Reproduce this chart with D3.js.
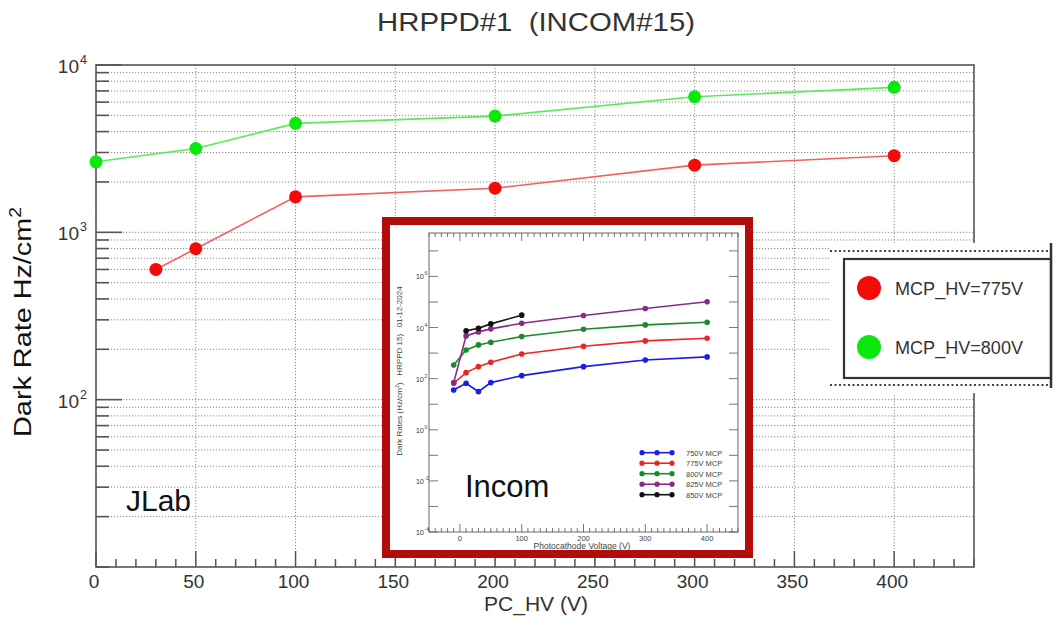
<!DOCTYPE html>
<html><head><meta charset="utf-8">
<script src="https://cdn.jsdelivr.net/npm/d3@7"></script>
<style>
body{margin:0;background:#fff}
svg{display:block}
text{font-family:"Liberation Sans",Arial,Helvetica,sans-serif}
</style>
</head><body>
<svg id="c" width="1056" height="617"></svg>
<script>
// ---------- main chart data ----------
const chartTitle = "HRPPD#1  (INCOM#15)";
const pcHV775 = [30, 50, 100, 200, 300, 400];
const rate775 = [600, 798, 1630, 1835, 2520, 2870];
const pcHV800 = [0, 50, 100, 200, 300, 400];
const rate800 = [2640, 3170, 4480, 4950, 6460, 7350];
const xTickLabels = [0, 50, 100, 150, 200, 250, 300, 350, 400];
const yTickLabels = [100, 1000, 10000];
const legendLabels = ["MCP_HV=775V", "MCP_HV=800V"];

// ---------- inset (Incom) data ----------
const insetVoltages = [-10, 10, 30, 50, 100, 200, 300, 400];
const inset750 = [36, 66, 31, 70, 131, 295, 540, 710];
const inset775 = [66, 172, 295, 437, 927, 1850, 3000, 3820];
const inset800 = [344, 1330, 2090, 2660, 4440, 8600, 12700, 16200];
const inset825 = [70, 4710, 6760, 8870, 14800, 29500, 55600, 101600];
const inset850Voltages = [10, 30, 50, 100];
const inset850 = [7400, 9420, 13900, 30500];
const insetLegendLabels = ["750V MCP", "775V MCP", "800V MCP", "825V MCP", "850V MCP"];
const insetXTickLabels = [0, 100, 200, 300, 400];
const insetYLabelExps = [-4, -2, 0, 2, 4, 6];

const svg = d3.select("#c");

// ================= MAIN PLOT =================
const x = d3.scaleLinear().domain([0, 440]).range([96, 974]);
const y = d3.scaleLog().domain([10, 10000]).range([567, 65]);
const [x0, x1] = x.range();
const [yb, yt] = y.range();

const g = svg.append("g");

// grid: vertical (major x) and horizontal (every log tick)
const yTicksAll = y.ticks().filter(v => v > 10 && v < 10000);
g.selectAll(".hg").data(yTicksAll).join("line")
  .attr("x1", x0).attr("x2", x1)
  .attr("y1", d => y(d)).attr("y2", d => y(d))
  .attr("stroke", "#8a8a8a").attr("stroke-width", 1).attr("stroke-dasharray", "1.2,1.8");
g.selectAll(".vg").data(xTickLabels.filter(v => v > 0)).join("line")
  .attr("x1", d => x(d)).attr("x2", d => x(d))
  .attr("y1", yt).attr("y2", yb)
  .attr("stroke", "#8a8a8a").attr("stroke-width", 1).attr("stroke-dasharray", "1.2,1.8");

// frame
g.append("rect").attr("x", x0).attr("y", yt).attr("width", x1 - x0).attr("height", yb - yt)
  .attr("fill", "none").attr("stroke", "#555").attr("stroke-width", 1.6);

// x ticks
const xMinor = d3.range(0, 441, 10);
g.selectAll(".xt").data(xMinor).join("line")
  .attr("x1", d => x(d)).attr("x2", d => x(d))
  .attr("y1", yb).attr("y2", d => yb - (d % 50 === 0 ? 16 : 8))
  .attr("stroke", "#555").attr("stroke-width", 1.5);
// y ticks
g.selectAll(".yt").data(y.ticks()).join("line")
  .attr("x1", x0).attr("x2", d => x0 + (yTickLabels.includes(d) ? 26 : 13))
  .attr("y1", d => y(d)).attr("y2", d => y(d))
  .attr("stroke", "#555").attr("stroke-width", 1.6);

// x tick labels
g.selectAll(".xl").data(xTickLabels).join("text")
  .attr("x", d => x(d) - 2).attr("y", 588)
  .attr("text-anchor", "middle").attr("font-size", 19).attr("fill", "#333")
  .text(d => d);
// y tick labels (10^n)
yTickLabels.forEach(v => {
  const t = g.append("text").attr("x", 79).attr("y", y(v) + 8)
    .attr("text-anchor", "end").attr("font-size", 19).attr("fill", "#333").text("10");
  g.append("text").attr("x", 80).attr("y", y(v) - 1)
    .attr("font-size", 12.5).attr("fill", "#333").text(Math.round(Math.log10(v)));
});

// axis titles
svg.append("text").attr("x", 536).attr("y", 31).attr("text-anchor", "middle")
  .attr("font-size", 25).attr("fill", "#333").attr("textLength", 318)
  .attr("lengthAdjust", "spacingAndGlyphs").style("white-space", "pre").text(chartTitle);
svg.append("text").attr("x", 536).attr("y", 611).attr("text-anchor", "middle")
  .attr("font-size", 21).attr("fill", "#333").text("PC_HV (V)");
const yl = svg.append("text").attr("transform", "translate(31,322) rotate(-90) scale(1.2,1)")
  .attr("text-anchor", "middle").attr("font-size", 24).attr("fill", "#111");
yl.append("tspan").text("Dark Rate Hz/cm");
yl.append("tspan").attr("dy", -10).attr("font-size", 16).text("2");

// series
const line = d3.line().x(d => x(d[0])).y(d => y(d[1]));
const s775 = pcHV775.map((v, i) => [v, rate775[i]]);
const s800 = pcHV800.map((v, i) => [v, rate800[i]]);
g.append("path").attr("d", line(s800)).attr("fill", "none").attr("stroke", "#5ee85e").attr("stroke-width", 1.6);
g.append("path").attr("d", line(s775)).attr("fill", "none").attr("stroke", "#f26060").attr("stroke-width", 1.6);
g.selectAll(".m800").data(s800).join("circle").attr("cx", d => x(d[0])).attr("cy", d => y(d[1]))
  .attr("r", 6.5).attr("fill", "#0be80b");
g.selectAll(".m775").data(s775).join("circle").attr("cx", d => x(d[0])).attr("cy", d => y(d[1]))
  .attr("r", 6.5).attr("fill", "#f50a0a");

// JLab label
svg.append("text").attr("x", 126).attr("y", 511).attr("font-size", 30).attr("fill", "#111").text("JLab");

// ================= LEGEND =================
const lg = svg.append("g");
lg.append("rect").attr("x", 830).attr("y", 243).attr("width", 226).attr("height", 150).attr("fill", "#fff");
[251, 385].forEach(yy => lg.append("line").attr("x1", 830).attr("x2", 1051).attr("y1", yy).attr("y2", yy)
  .attr("stroke", "#444").attr("stroke-width", 2).attr("stroke-dasharray", "2,2.5"));
lg.append("rect").attr("x", 844).attr("y", 259).attr("width", 207).attr("height", 119)
  .attr("fill", "#fff").attr("stroke", "#333").attr("stroke-width", 2.2);
lg.append("line").attr("x1", 1051).attr("x2", 1051).attr("y1", 243).attr("y2", 388)
  .attr("stroke", "#333").attr("stroke-width", 2.5);
const legColors = ["#f50a0a", "#0be80b"];
legendLabels.forEach((lab, i) => {
  const cy = 288 + i * 59;
  lg.append("circle").attr("cx", 869).attr("cy", cy).attr("r", 12).attr("fill", legColors[i]);
  lg.append("text").attr("x", 895).attr("y", cy + 7).attr("font-size", 19).attr("fill", "#333")
    .attr("textLength", 128).attr("lengthAdjust", "spacingAndGlyphs").text(lab);
});

// ================= INSET =================
const ig = svg.append("g");
ig.append("rect").attr("x", 386).attr("y", 221).attr("width", 363).attr("height", 333)
  .attr("fill", "#fff").attr("stroke", "#b30c0c").attr("stroke-width", 8);

const ix = d3.scaleLinear().domain([-50, 450]).range([429, 738]);
const iy = d3.scaleLog().domain([1e-4, 5e7]).range([532, 233]);
const [ix0, ix1] = ix.range();
const [iyb, iyt] = iy.range();

ig.append("rect").attr("x", ix0).attr("y", iyt).attr("width", ix1 - ix0).attr("height", iyb - iyt)
  .attr("fill", "none").attr("stroke", "#666").attr("stroke-width", 1);

const ixMinor = d3.range(-50, 451, 10);
ixMinor.forEach(v => {
  const L = v % 100 === 0 ? 8 : 4;
  ig.append("line").attr("x1", ix(v)).attr("x2", ix(v)).attr("y1", iyb).attr("y2", iyb - L)
    .attr("stroke", "#666").attr("stroke-width", 0.9);
  ig.append("line").attr("x1", ix(v)).attr("x2", ix(v)).attr("y1", iyt).attr("y2", iyt + L)
    .attr("stroke", "#666").attr("stroke-width", 0.9);
});
const iyDecades = d3.range(-4, 8);
iyDecades.forEach(e => {
  const yy = iy(Math.pow(10, e));
  ig.append("line").attr("x1", ix0).attr("x2", ix0 + 9).attr("y1", yy).attr("y2", yy)
    .attr("stroke", "#666").attr("stroke-width", 0.9);
  ig.append("line").attr("x1", ix1).attr("x2", ix1 - 9).attr("y1", yy).attr("y2", yy)
    .attr("stroke", "#666").attr("stroke-width", 0.9);
});
insetXTickLabels.forEach(v => {
  ig.append("text").attr("x", ix(v)).attr("y", 541).attr("text-anchor", "middle")
    .attr("font-size", 7.5).attr("fill", "#444").text(v);
});
insetYLabelExps.forEach(e => {
  const yy = iy(Math.pow(10, e));
  ig.append("text").attr("x", 424).attr("y", yy + 3).attr("text-anchor", "end")
    .attr("font-size", 7.5).attr("fill", "#444").text("10");
  ig.append("text").attr("x", 424.5).attr("y", yy - 1)
    .attr("font-size", 5).attr("fill", "#444").text(e);
});
ig.append("text").attr("x", 582).attr("y", 549).attr("text-anchor", "middle")
  .attr("font-size", 8.5).attr("fill", "#444").text("Photocathode Voltage (V)");
const iyl = ig.append("text").attr("transform", "translate(402,371) rotate(-90)")
  .attr("text-anchor", "middle").attr("font-size", 8).attr("fill", "#444").style("white-space", "pre");
iyl.append("tspan").text("Dark Rates (Hz/cm");
iyl.append("tspan").attr("dy", -3).attr("font-size", 5.5).text("2");
iyl.append("tspan").attr("dy", 3).text(")   HRPPD 15)   01-12-2024");

const insetSeries = [
  {v: insetVoltages, r: inset750, c: "#1c1ce6"},
  {v: insetVoltages, r: inset775, c: "#ee2424"},
  {v: insetVoltages, r: inset800, c: "#1a8a2a"},
  {v: insetVoltages, r: inset825, c: "#8a2a8a"},
  {v: inset850Voltages, r: inset850, c: "#111"}
];
const iline = d3.line().x(d => ix(d[0])).y(d => iy(d[1]));
insetSeries.forEach(s => {
  const pts = s.v.map((v, i) => [v, s.r[i]]);
  ig.append("path").attr("d", iline(pts)).attr("fill", "none").attr("stroke", s.c).attr("stroke-width", 1.6);
  ig.selectAll(null).data(pts).join("circle").attr("cx", d => ix(d[0])).attr("cy", d => iy(d[1]))
    .attr("r", 2.8).attr("fill", s.c);
});
// inset legend
insetLegendLabels.forEach((lab, i) => {
  const yy = 452.7 + i * 10.5;
  const c = insetSeries[i].c;
  ig.append("line").attr("x1", 642).attr("x2", 672).attr("y1", yy).attr("y2", yy)
    .attr("stroke", c).attr("stroke-width", 1.6);
  [642, 657, 672].forEach(xx => ig.append("circle").attr("cx", xx).attr("cy", yy).attr("r", 2.6).attr("fill", c));
  ig.append("text").attr("x", 686).attr("y", yy + 3).attr("font-size", 7.5).attr("fill", "#444").text(lab);
});

// Incom label
svg.append("text").attr("x", 465).attr("y", 497).attr("font-size", 31).attr("fill", "#111").text("Incom");
</script>
</body></html>
